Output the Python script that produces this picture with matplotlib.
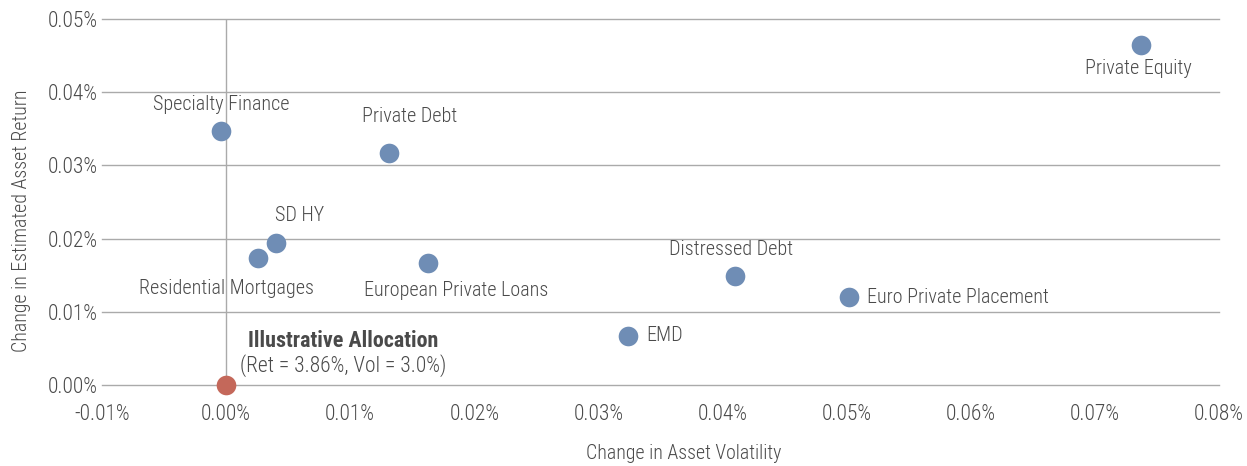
import matplotlib
matplotlib.use("Agg")
import matplotlib.pyplot as plt
from matplotlib.ticker import FuncFormatter, MultipleLocator

plt.rcParams['font.family'] = ['Roboto Condensed', 'Asap Condensed', 'DejaVu Sans']

names = ["Private Equity", "Specialty Finance", "Private Debt", "SD HY",
         "Residential Mortgages", "European Private Loans", "Distressed Debt",
         "Euro Private Placement", "EMD"]
vol = [0.0737, -0.0004, 0.0131, 0.0040, 0.0026, 0.0163, 0.0410, 0.0502, 0.0324]
ret = [0.0464, 0.0347, 0.0317, 0.0194, 0.0174, 0.0167, 0.0149, 0.0120, 0.0067]
base_vol = [0.0]
base_ret = [0.0]
base_title = "Illustrative Allocation"
base_sub = "(Ret = 3.86%, Vol = 3.0%)"

# label offsets (points) and alignment
offsets = {
    "Private Equity": (-2, -17, 'center'),
    "Specialty Finance": (0, 19, 'center'),
    "Private Debt": (15, 26, 'center'),
    "SD HY": (17, 20, 'center'),
    "Residential Mortgages": (-23, -22, 'center'),
    "European Private Loans": (20, -20, 'center'),
    "Distressed Debt": (-3, 19, 'center'),
    "Euro Private Placement": (13, 0, 'left'),
    "EMD": (13, 0, 'left'),
}

txt = '#4a4a4a'
blue = '#6f8db5'
red = '#c4685a'
fw = 'light'
fs = 14.5

fig = plt.figure(figsize=(12.47, 4.66), dpi=100)
ax = fig.add_axes([0.0818, 0.1738, 0.8957, 0.7854])

ax.set_xlim(-0.01, 0.08)
ax.set_ylim(0.0, 0.05)
ax.xaxis.set_major_locator(MultipleLocator(0.01))
ax.yaxis.set_major_locator(MultipleLocator(0.01))
fmt = FuncFormatter(lambda v, p: f"{v:.2f}%")
ax.xaxis.set_major_formatter(fmt)
ax.yaxis.set_major_formatter(fmt)

for s in ax.spines.values():
    s.set_visible(False)
ax.grid(axis='y', color='#aaaaaa', linewidth=1.0)
for gl in ax.get_ygridlines():
    gl.set_clip_on(False)
ax.axvline(0, color='#aaaaaa', linewidth=1.0, zorder=1)
ax.set_axisbelow(True)
ax.tick_params(length=0, labelsize=15.5, colors=txt)
ax.tick_params(axis='x', pad=14)
ax.tick_params(axis='y', pad=3)
for lab in ax.get_xticklabels() + ax.get_yticklabels():
    lab.set_fontweight(fw)

ax.scatter(vol, ret, s=200, color=blue, zorder=3, clip_on=False, linewidths=0)
ax.scatter(base_vol, base_ret, s=200, color=red, zorder=3, clip_on=False, linewidths=0)

for n, x, y in zip(names, vol, ret):
    dx, dy, ha = offsets[n]
    ax.annotate(n, (x, y), xytext=(dx, dy), textcoords='offset points',
                ha=ha, va='center', fontsize=fs, color=txt, fontweight=fw)

ax.annotate(base_title, (base_vol[0], base_ret[0]), xytext=(84, 32),
            textcoords='offset points', ha='center', va='center',
            fontsize=15.8, fontweight='bold', color=txt)
ax.annotate(base_sub, (base_vol[0], base_ret[0]), xytext=(84, 14),
            textcoords='offset points', ha='center', va='center',
            fontsize=15.5, color=txt, fontweight=fw)

ax.set_xlabel("Change in Asset Volatility", fontsize=14.3, color=txt, fontweight=fw)
ax.xaxis.set_label_coords(0.521, -0.16)
ax.set_ylabel("Change in Estimated Asset Return", fontsize=14.3, color=txt, fontweight=fw)
ax.yaxis.set_label_coords(-0.064, 0.45)

fig.savefig("out.png", dpi=100)
